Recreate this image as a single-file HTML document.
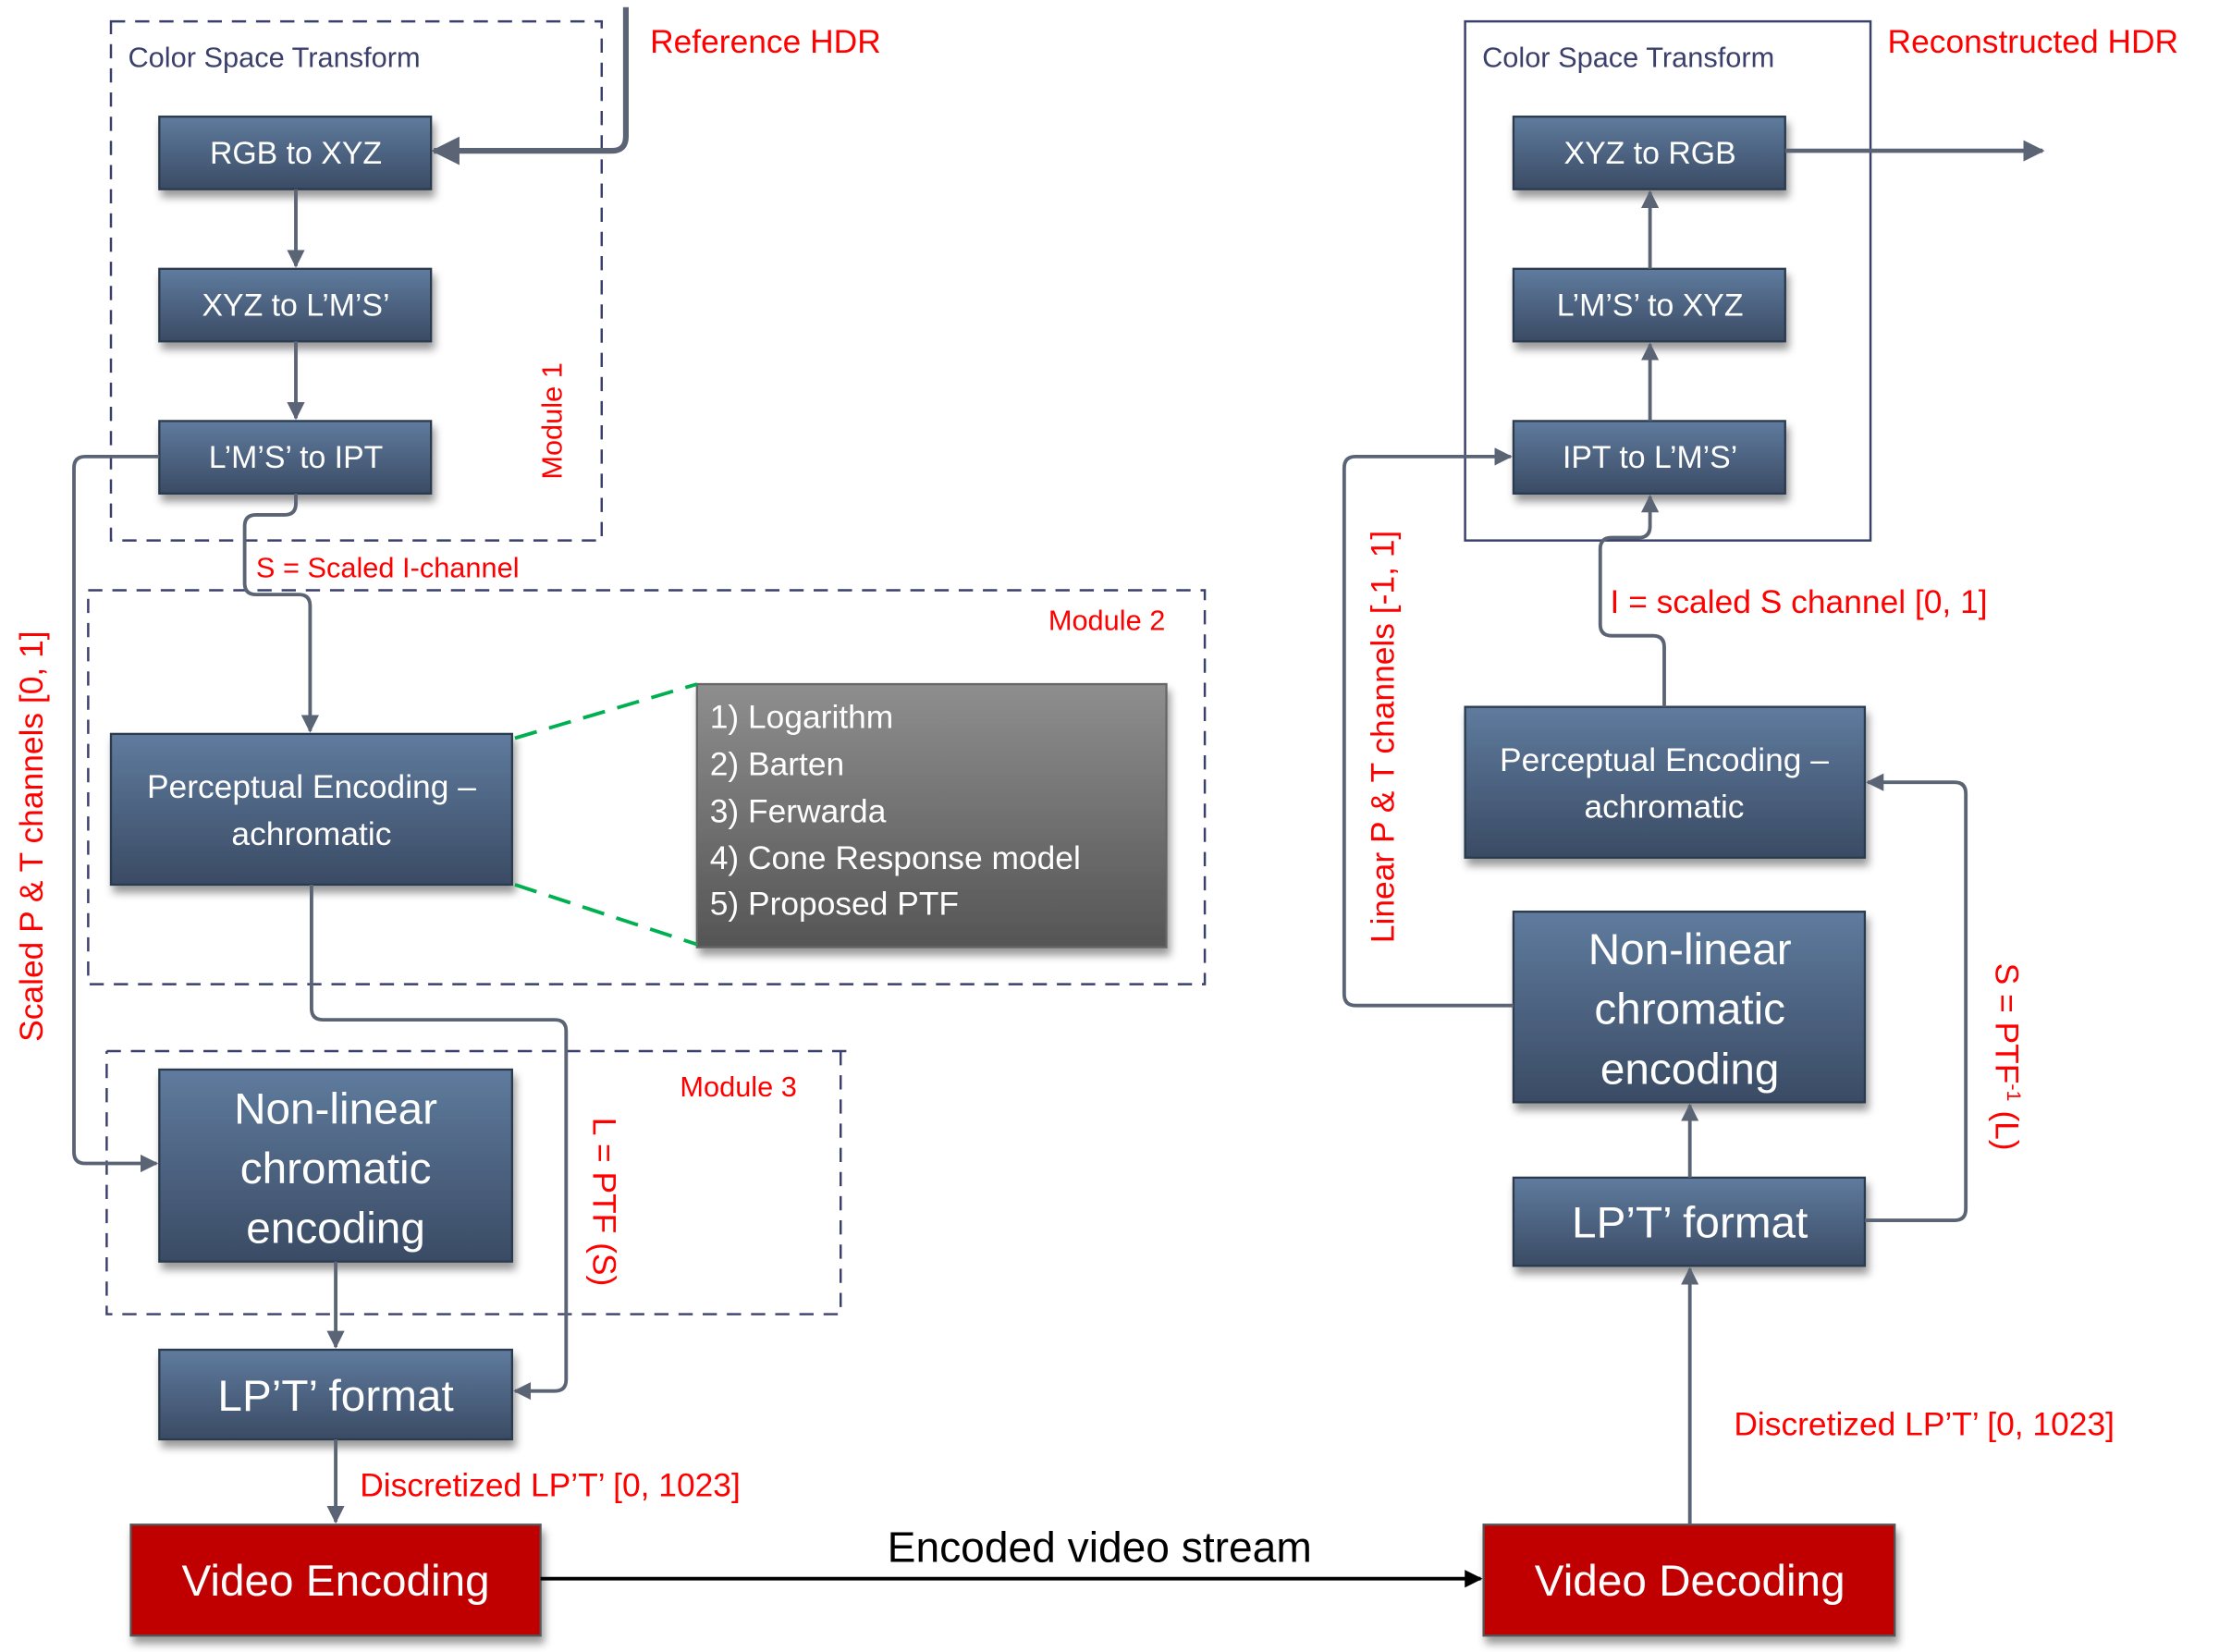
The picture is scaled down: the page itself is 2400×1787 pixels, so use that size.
<!DOCTYPE html>
<html><head><meta charset="utf-8"><style>
html,body{margin:0;padding:0;background:#fff;}
svg{display:block;}
text{font-family:"Liberation Sans",sans-serif;}
</style></head><body>
<svg width="2400" height="1787" viewBox="0 0 1560 1161.5" xmlns="http://www.w3.org/2000/svg">
<defs>
<linearGradient id="bg" x1="0" y1="0" x2="0" y2="1"><stop offset="0" stop-color="#5f7b9e"/><stop offset="1" stop-color="#3a4b64"/></linearGradient>
<linearGradient id="gg" x1="0" y1="0" x2="0" y2="1"><stop offset="0" stop-color="#8e8e8e"/><stop offset="1" stop-color="#555"/></linearGradient>
<marker id="a" viewBox="0 0 10 10" refX="9" refY="5" markerWidth="5" markerHeight="5" orient="auto"><path d="M0,0L10,5L0,10z" fill="#5a6475"/></marker>
<marker id="k" viewBox="0 0 10 10" refX="9" refY="5" markerWidth="5" markerHeight="5" orient="auto"><path d="M0,0L10,5L0,10z" fill="#000"/></marker>
<filter id="sh" x="-10%" y="-10%" width="130%" height="140%"><feDropShadow dx="2" dy="5" stdDeviation="3" flood-opacity="0.4"/></filter>
</defs>
<g fill="none" stroke="#3a3f6b" stroke-width="1.6" stroke-dasharray="10,7">
<rect x="78" y="15" width="345" height="365"/>
<rect x="62" y="415" width="785" height="277"/>
<path d="M75,739H600M591,739V924H75V739"/>
</g>
<rect x="1030" y="15" width="285" height="365" fill="none" stroke="#3a3f6b" stroke-width="1.6"/>
<g stroke="#2c3a4e" stroke-width="1.5" fill="url(#bg)" filter="url(#sh)">
<rect x="112" y="82" width="191" height="51"/>
<rect x="112" y="189" width="191" height="51"/>
<rect x="112" y="296" width="191" height="51"/>
<rect x="78" y="516" width="282" height="106"/>
<rect x="112" y="752" width="248" height="135"/>
<rect x="112" y="949" width="248" height="63"/>
<rect x="1064" y="82" width="191" height="51"/>
<rect x="1064" y="189" width="191" height="51"/>
<rect x="1064" y="296" width="191" height="51"/>
<rect x="1030" y="497" width="281" height="106"/>
<rect x="1064" y="641" width="247" height="134"/>
<rect x="1064" y="828" width="247" height="62"/>
<rect x="490" y="481" width="330" height="185" fill="url(#gg)" stroke="#666"/>
<rect x="92" y="1072" width="288" height="78" fill="#c00000" stroke="#555"/>
<rect x="1043" y="1072" width="289" height="78" fill="#c00000" stroke="#555"/>
</g>
<g stroke="#00b050" stroke-width="2.5" stroke-dasharray="16,9" fill="none">
<path d="M362,519L490,481"/><path d="M362,622L490,664"/>
</g>
<g stroke="#5a6475" stroke-width="2.5" fill="none" marker-end="url(#a)">
<path d="M440,5V96Q440,106 430,106H305" stroke-width="4"/>
<path d="M208,133V187"/>
<path d="M208,240V294"/>
<path d="M208,347V354Q208,362 200,362H180Q172,362 172,370V410Q172,418 180,418H210Q218,418 218,426V514"/>
<path d="M112,321H60Q52,321 52,329V810Q52,818 60,818H110"/>
<path d="M219,622V709Q219,717 227,717H390Q398,717 398,725V970Q398,978 390,978H362"/>
<path d="M236,887V947"/>
<path d="M236,1012V1070"/>
<path d="M1255,106H1436" stroke-width="3"/>
<path d="M1160,189V135"/>
<path d="M1160,296V242"/>
<path d="M1170,497V455Q1170,447 1162,447H1133Q1125,447 1125,439V386Q1125,378 1133,378H1152Q1160,378 1160,370V349"/>
<path d="M1064,707H953Q945,707 945,699V329Q945,321 953,321H1062"/>
<path d="M1311,858H1374Q1382,858 1382,850V558Q1382,550 1374,550H1313"/>
<path d="M1188,828V777"/>
<path d="M1188,1072V892"/>
</g>
<path d="M380,1110H1041" stroke="#000" stroke-width="2.5" marker-end="url(#k)"/>
<g fill="#fff" text-anchor="middle" font-size="22">
<text x="208" y="115">RGB to XYZ</text>
<text x="208" y="222">XYZ to L’M’S’</text>
<text x="208" y="329">L’M’S’ to IPT</text>
<text x="219" y="561" font-size="23">Perceptual Encoding –</text>
<text x="219" y="594" font-size="23">achromatic</text>
<text x="236" y="790" font-size="31">Non-linear</text>
<text x="236" y="832" font-size="31">chromatic</text>
<text x="236" y="874" font-size="31">encoding</text>
<text x="236" y="992" font-size="31">LP’T’ format</text>
<text x="236" y="1122" font-size="31">Video Encoding</text>
<text x="1188" y="1122" font-size="31">Video Decoding</text>
<text x="1160" y="115">XYZ to RGB</text>
<text x="1160" y="222">L’M’S’ to XYZ</text>
<text x="1160" y="329">IPT to L’M’S’</text>
<text x="1170" y="542" font-size="23">Perceptual Encoding –</text>
<text x="1170" y="575" font-size="23">achromatic</text>
<text x="1188" y="678" font-size="31">Non-linear</text>
<text x="1188" y="720" font-size="31">chromatic</text>
<text x="1188" y="762" font-size="31">encoding</text>
<text x="1188" y="870" font-size="31">LP’T’ format</text>
</g>
<g fill="#fff" font-size="23">
<text x="499" y="512">1) Logarithm</text>
<text x="499" y="545">2) Barten</text>
<text x="499" y="578">3) Ferwarda</text>
<text x="499" y="611">4) Cone Response model</text>
<text x="499" y="643">5) Proposed PTF</text>
</g>
<g fill="#3a3f6b" font-size="20">
<text x="90" y="47">Color Space Transform</text>
<text x="1042" y="47">Color Space Transform</text>
</g>
<g fill="#ff0000" font-size="23">
<text x="457" y="37">Reference HDR</text>
<text x="1327" y="37">Reconstructed HDR</text>
<text x="180" y="406" font-size="20">S =  Scaled I-channel</text>
<text x="737" y="443" font-size="20">Module 2</text>
<text x="478" y="771" font-size="20">Module 3</text>
<text x="253" y="1052">Discretized LP’T’ [0, 1023]</text>
<text x="1219" y="1009">Discretized LP’T’ [0, 1023]</text>
<text x="1132" y="431">I = scaled S channel [0, 1]</text>
<text transform="translate(395,296) rotate(-90)" text-anchor="middle" font-size="20">Module 1</text>
<text transform="translate(30,588) rotate(-90)" text-anchor="middle">Scaled P &amp; T channels [0, 1]</text>
<text transform="translate(980,518) rotate(-90)" text-anchor="middle">Linear P &amp; T channels [-1, 1]</text>
<text transform="translate(417,845) rotate(90)" text-anchor="middle">L = PTF (S)</text>
<text transform="translate(1403,743) rotate(90)" text-anchor="middle">S = PTF<tspan font-size="14" dy="-8">-1</tspan><tspan dy="8"> (L)</tspan></text>
</g>
<text x="773" y="1098" text-anchor="middle" font-size="30" fill="#000">Encoded video stream</text>
</svg>
</body></html>
